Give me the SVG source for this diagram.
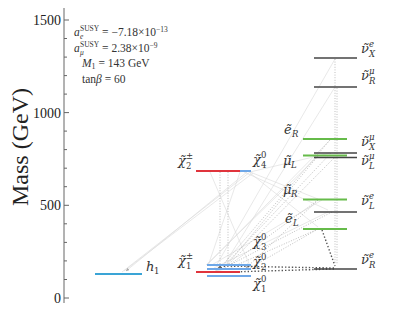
<svg xmlns="http://www.w3.org/2000/svg" width="394" height="319" viewBox="0 0 394 319">
<defs>
<style>
.ax{stroke:#666;stroke-width:1;fill:none}
.tl{font-family:"Liberation Serif",serif;font-size:14px;fill:#222;text-anchor:end}
.ann{font-family:"Liberation Serif",serif;font-size:11.5px;fill:#333}
.lab{font-family:"DejaVu Serif",serif;font-size:13px;font-style:italic;fill:#333}
.s{font-size:8.5px}
.n{font-style:normal}
.neu{stroke:#6fa8e8;stroke-width:2}
.cha{stroke:#e0343c;stroke-width:2}
.sl{stroke:#66bb4a;stroke-width:2}
.sn{stroke:#444;stroke-width:1.6}
.hig{stroke:#3aa4d6;stroke-width:2.2}
.f{stroke:#d8d8d8;stroke-width:0.6;fill:none}
.d{stroke:#b8b8b8;stroke-width:0.9;stroke-dasharray:1 1.6;fill:none}
.dk{stroke:#555;stroke-width:1.4;stroke-dasharray:1.4 2;fill:none}
</style>
<marker id="ar" viewBox="0 0 10 10" refX="9" refY="5" markerWidth="6" markerHeight="6" orient="auto"><path d="M0,1 L10,5 L0,9 z" fill="#aaa"/></marker>
<marker id="ard" viewBox="0 0 10 10" refX="9" refY="5" markerWidth="5" markerHeight="5" orient="auto"><path d="M0,1 L10,5 L0,9 z" fill="#666"/></marker>
</defs>
<rect width="394" height="319" fill="#fff"/>
<g id="axis">
<line class="ax" x1="64" y1="8" x2="64" y2="303"/>
<path class="ax" d="M64,20h5M64,112.6h5M64,205.3h5M64,298h5M64,38.5h3M64,57.1h3M64,75.6h3M64,94.1h3M64,131.1h3M64,149.6h3M64,168.2h3M64,186.7h3M64,223.8h3M64,242.4h3M64,260.9h3M64,279.5h3"/>
<text class="tl" x="61" y="25">1500</text>
<text class="tl" x="61" y="117.6">1000</text>
<text class="tl" x="61" y="210.3">500</text>
<text class="tl" x="61" y="303">0</text>
<text x="28" y="147" transform="rotate(-90 28 147)" text-anchor="middle" font-family="Liberation Serif,serif" font-size="24" fill="#222">Mass (GeV)</text>
</g>
<g id="annotation" class="ann">
<text x="74" y="36"><tspan font-style="italic">a</tspan><tspan x="80" dy="2.5" font-size="7.5" font-style="italic">e</tspan><tspan x="80" dy="-8" font-size="7.5">SUSY</tspan><tspan dy="5.5"> = −7.18×10</tspan><tspan dy="-4.5" font-size="7.5">−13</tspan></text>
<text x="74" y="52"><tspan font-style="italic">a</tspan><tspan x="80" dy="2.5" font-size="7.5" font-style="italic">μ</tspan><tspan x="80" dy="-8" font-size="7.5">SUSY</tspan><tspan dy="5.5"> = 2.38×10</tspan><tspan dy="-4.5" font-size="7.5">−9</tspan></text>
<text x="82" y="67"><tspan font-style="italic">M</tspan><tspan font-size="8" dy="2">1</tspan><tspan dy="-2"> = 143 GeV</tspan></text>
<text x="82" y="83">tan<tspan font-style="italic">β</tspan> = 60</text>
</g>
<g id="connectors">
<path class="f" d="M250,172L122,272M253,173L124,271M247,172L126,271" marker-end="url(#ar)"/>
<path class="f" d="M335,59L216,266M335,87L224,265M330,140L208,264M318,156L206,265M322,200L210,266M328,212L214,268M250,172L318,199M250,173L318,227M250,172L330,153M244,172L328,210M210,172L250,266M240,172L208,266"/>
<path class="d" d="M335,59V264M337,88V264M330,140L222,266M331,153L224,266M318,156L226,266M334,158L226,267M318,200L228,266M332,212L224,268M318,229L230,268M220,172V266M228,172V266M318,229L250,268M318,200L246,268" marker-end="url(#ar)"/>
<path class="dk" d="M322,230L335,266M334,268L222,266M334,269L230,272M225,266L216,270" marker-end="url(#ard)"/>
</g>
<g id="h1"><line class="hig" x1="95" y1="274" x2="142" y2="274"/><text class="lab" x="146" y="271">h<tspan class="s n" x="154" dy="3">1</tspan></text></g>
<g id="chi04"><line class="neu" x1="207" y1="171" x2="251" y2="171"/><text class="lab" x="253" y="164">χ̃<tspan class="s n" x="261" dy="4">4</tspan><tspan class="s n" x="261" dy="-10">0</tspan></text></g>
<g id="chi2pm"><line class="cha" x1="196" y1="171" x2="240" y2="171"/><text class="lab" x="178" y="165">χ̃<tspan class="s n" x="186" dy="4">2</tspan><tspan class="s n" x="186" dy="-10">±</tspan></text></g>
<g id="chi03"><line class="neu" x1="207" y1="265" x2="251" y2="265"/><text class="lab" x="253" y="246">χ̃<tspan class="s n" x="261" dy="4">3</tspan><tspan class="s n" x="261" dy="-10">0</tspan></text></g>
<g id="chi02"><line class="neu" x1="207" y1="269" x2="251" y2="269"/><text class="lab" x="253" y="266">χ̃<tspan class="s n" x="261" dy="4">2</tspan><tspan class="s n" x="261" dy="-10">0</tspan></text></g>
<g id="chi1pm"><line class="cha" x1="196" y1="272" x2="240" y2="272"/><text class="lab" x="178" y="265">χ̃<tspan class="s n" x="186" dy="4">1</tspan><tspan class="s n" x="186" dy="-10">±</tspan></text></g>
<g id="chi01"><line class="neu" x1="207" y1="276" x2="251" y2="276"/><text class="lab" x="253" y="288">χ̃<tspan class="s n" x="261" dy="4">1</tspan><tspan class="s n" x="261" dy="-10">0</tspan></text></g>
<g id="snuXe"><line class="sn" x1="314" y1="58" x2="357" y2="58"/><text class="lab" x="361" y="53">ν̃<tspan class="s" x="369" dy="4">X</tspan><tspan class="s" x="369" dy="-10">e</tspan></text></g>
<g id="snuRmu"><line class="sn" x1="314" y1="87" x2="357" y2="87"/><text class="lab" x="361" y="80">ν̃<tspan class="s" x="369" dy="4">R</tspan><tspan class="s" x="369" dy="-10">μ</tspan></text></g>
<g id="seR"><line class="sl" x1="303" y1="139" x2="347" y2="139"/><text class="lab" x="284" y="134">ẽ<tspan class="s" x="292" dy="3">R</tspan></text></g>
<g id="snuXmu"><line class="sn" x1="314" y1="153" x2="357" y2="153"/><text class="lab" x="361" y="146">ν̃<tspan class="s" x="369" dy="4">X</tspan><tspan class="s" x="369" dy="-10">μ</tspan></text></g>
<g id="smuL"><line class="sl" x1="303" y1="155.5" x2="347" y2="155.5"/><text class="lab" x="283" y="165">μ̃<tspan class="s" x="291" dy="3">L</tspan></text></g>
<g id="snuLmu"><line class="sn" x1="314" y1="157.5" x2="357" y2="157.5"/><text class="lab" x="361" y="165">ν̃<tspan class="s" x="369" dy="4">L</tspan><tspan class="s" x="369" dy="-10">μ</tspan></text></g>
<g id="smuR"><line class="sl" x1="303" y1="199.5" x2="347" y2="199.5"/><text class="lab" x="283" y="194">μ̃<tspan class="s" x="291" dy="3">R</tspan></text></g>
<g id="snuLe"><line class="sn" x1="314" y1="212" x2="357" y2="212"/><text class="lab" x="361" y="205">ν̃<tspan class="s" x="369" dy="4">L</tspan><tspan class="s" x="369" dy="-10">e</tspan></text></g>
<g id="seL"><line class="sl" x1="303" y1="229" x2="347" y2="229"/><text class="lab" x="285" y="223">ẽ<tspan class="s" x="293" dy="3">L</tspan></text></g>
<g id="snuRe"><line class="sn" x1="314" y1="269" x2="357" y2="269"/><text class="lab" x="361" y="264">ν̃<tspan class="s" x="369" dy="4">R</tspan><tspan class="s" x="369" dy="-10">e</tspan></text></g>
</svg>
